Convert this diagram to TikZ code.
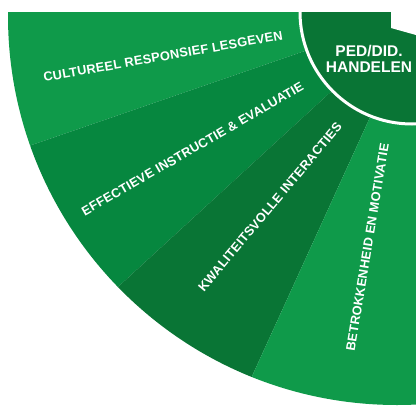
\documentclass[tikz,border=0pt]{standalone}
\usepackage{fontspec}
\setmainfont{Liberation Sans}
\definecolor{licht}{HTML}{0F9A4A}
\definecolor{midden}{HTML}{06873F}
\definecolor{donker}{HTML}{097535}
\tikzset{
  seglabel/.style={text=white, font=\bfseries\fontsize{12.8}{14}\selectfont\addfontfeature{LetterSpace=2}, inner sep=0pt},
  kern/.style={text=white, font=\bfseries\fontsize{15.5}{16.5}\selectfont, inner sep=0pt, align=center},
}
\begin{document}
\begin{tikzpicture}[x=1pt, y=1pt]
    \useasboundingbox (0,0) rectangle (416,-408);
    \coordinate (M) at (418,-12);

    % セクター
    \begin{scope}
      \clip (0,-12) rectangle (416,-408);
      \clip (397,-16) circle (389);
      \fill[licht] (M) -- +(180:600) -- +(199:600) -- cycle;
      \fill[midden] (M) -- +(199:600) -- +(222.5:600) -- cycle;
      \fill[donker] (M) -- +(222.5:600) -- +(245.5:600) -- cycle;
      \fill[licht] (M) -- +(245.5:600) -- +(300:600) -- cycle;
    \end{scope}

    % 中心の円
    \begin{scope}
      \clip (0,-12) rectangle (416,-408);
      \filldraw[fill=donker, draw=white, line width=3pt] (412,-12) circle (112);
      \fill[white] (391,-12) -- (391,-28) -- (416,-35) -- (416,-12) -- cycle;
    \end{scope}

    % ラベル
    \node[seglabel, rotate=10] (cultureel) at (163,-56.5) {CULTUREEL RESPONSIEF LESGEVEN};
    \node[seglabel, rotate=30] (instructie) at (192.5,-149) {EFFECTIEVE INSTRUCTIE \& EVALUATIE};
    \node[seglabel, rotate=50] (interacties) at (270,-207) {KWALITEITSVOLLE INTERACTIES};
    \node[seglabel, rotate=80.6] (motivatie) at (367.5,-247.5) {BETROKKENHEID EN MOTIVATIE};
    \node[kern] (handelen) at (369,-59) {PED/DID.\\HANDELEN};
\end{tikzpicture}
\end{document}
